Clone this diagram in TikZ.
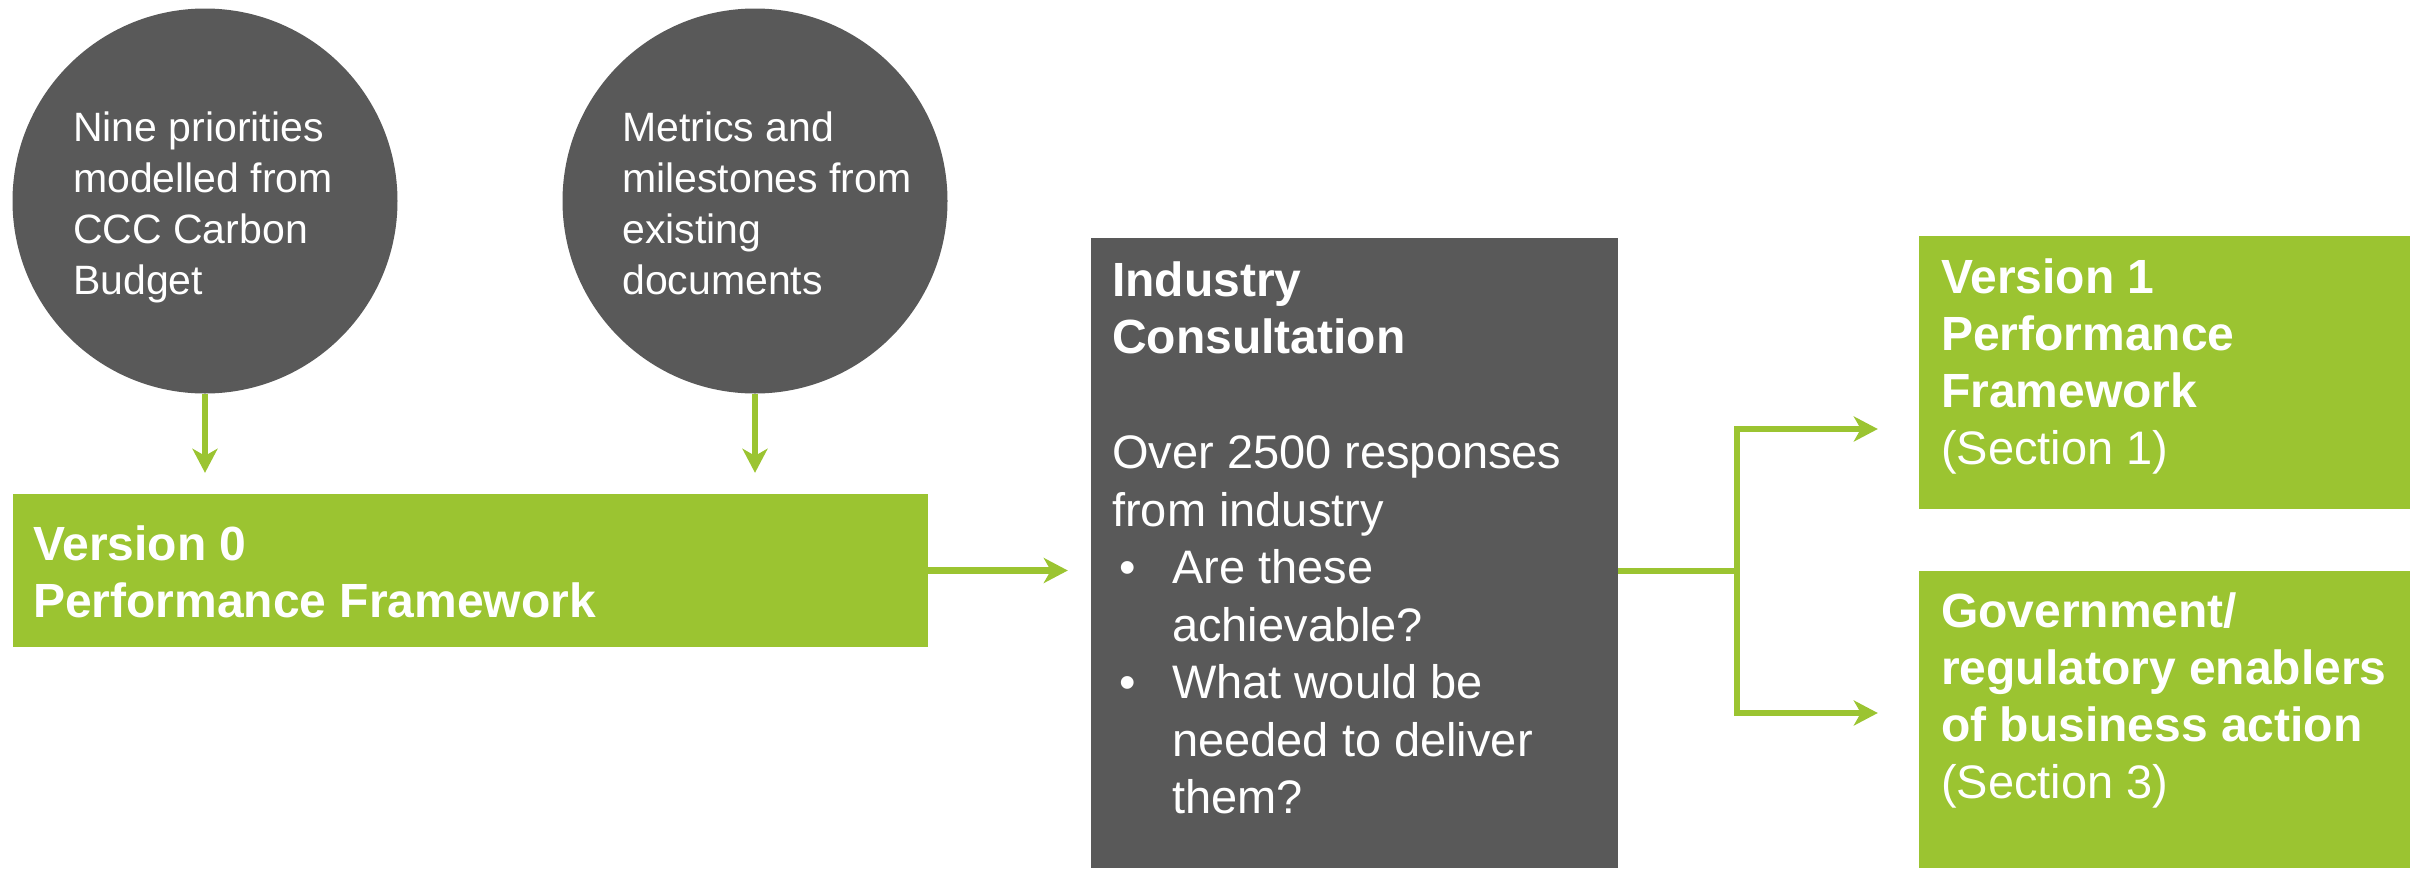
\documentclass[tikz,border=0pt]{standalone}
\usepackage{fontspec}
\setmainfont{Liberation Sans}
\usetikzlibrary{arrows.meta}
\definecolor{dgrey}{HTML}{595959}
\definecolor{lgreen}{HTML}{9BC431}
\newcommand{\tl}[1]{\begin{tabular}[t]{@{}l@{}}#1\end{tabular}}
\begin{document}
\begin{tikzpicture}[x=1pt,y=-1pt,
  circ/.style={circle, fill=dgrey, inner sep=0pt, minimum size=385pt},
  gbox/.style={rectangle, fill=lgreen, inner sep=0pt},
  dbox/.style={rectangle, fill=dgrey, inner sep=0pt},
  txt/.style={anchor=base west, inner sep=0pt, text=white, align=left},
  arr/.style={draw=lgreen, line width=6.5pt, line join=miter, -{Stealth[length=24pt,width=25pt,inset=7pt]}},
  ln/.style={draw=lgreen, line width=6.5pt, line join=miter}]
\useasboundingbox (0,0) rectangle (2417,868);
% shapes
\node[circ] (c1) at (205,201) {};
\node[circ] (c2) at (755,201) {};
\node[gbox, minimum width=915pt, minimum height=153pt] (v0) at (470.5,570.5) {};
\node[dbox, minimum width=527pt, minimum height=630pt] (ind) at (1354.5,553) {};
\node[gbox, minimum width=491pt, minimum height=273pt] (v1) at (2164.5,372.5) {};
\node[gbox, minimum width=491pt, minimum height=297pt] (gov) at (2164.5,719.5) {};
% texts
\node[txt, font=\fontsize{41}{51.3}\selectfont] (t1) at (73,141)
  {\tl{Nine priorities\\ modelled from\\ CCC Carbon\\ Budget}};
\node[txt, font=\fontsize{41}{51.3}\selectfont] (t2) at (622,141)
  {\tl{Metrics and\\ milestones from\\ existing\\ documents}};
\node[txt, font=\fontsize{48}{57}\selectfont\bfseries] (t3) at (33,560)
  {\tl{Version 0\\ Performance Framework}};
\node[txt, font=\fontsize{47}{57.5}\selectfont] (t4) at (1112,296)
  {\tl{\fontsize{48}{57.5}\selectfont\bfseries Industry\\
       \fontsize{48}{57.5}\selectfont\bfseries Consultation\\
       \\
       Over 2500 responses\\
       from industry\\
       \makebox[60pt][l]{\hspace{7pt}•}Are these\\
       \hspace*{60pt}achievable?\\
       \makebox[60pt][l]{\hspace{7pt}•}What would be\\
       \hspace*{60pt}needed to deliver\\
       \hspace*{60pt}them?}};
\node[txt, font=\fontsize{47}{57.3}\selectfont] (t5) at (1941,293)
  {\tl{\fontsize{48}{57.3}\selectfont\bfseries Version 1\\
       \fontsize{48}{57.3}\selectfont\bfseries Performance\\
       \fontsize{48}{57.3}\selectfont\bfseries Framework\\
       (Section 1)}};
\node[txt, font=\fontsize{47}{57}\selectfont] (t6) at (1941,627)
  {\tl{\fontsize{48}{57}\selectfont\bfseries Government/\\
       \fontsize{48}{57}\selectfont\bfseries regulatory enablers\\
       \fontsize{48}{57}\selectfont\bfseries of business action\\
       (Section 3)}};
% connectors
\draw[arr, shorten >=21pt] (c1.south) -- (c1.south |- v0.north);
\draw[arr, shorten >=21pt] (c2.south) -- (c2.south |- v0.north);
\draw[arr, shorten >=23pt] (v0.east) -- (v0.east -| ind.west);
\coordinate (split) at (1737,571);
\coordinate (up) at (1737,429);
\coordinate (dn) at (1737,713);
\draw[ln] (ind.east |- split) -- (split);
\draw[arr, shorten >=41pt] (split) -- (up) -- (up -| v1.west);
\draw[arr, shorten >=41pt] (split) -- (dn) -- (dn -| gov.west);
\end{tikzpicture}
\end{document}
